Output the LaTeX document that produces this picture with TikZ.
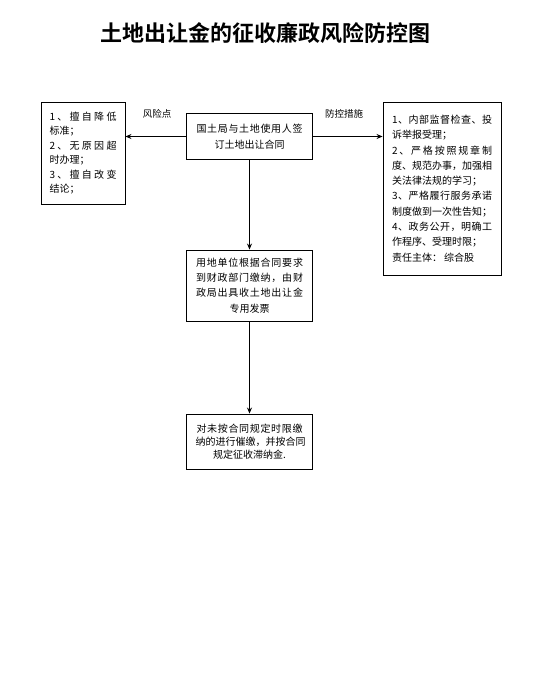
\documentclass[tikz,border=0pt]{standalone}
\usepackage{fontspec}
\setmainfont{Noto Sans CJK SC}
\newfontfamily\titlefont{Noto Sans CJK SC Bold}
\usetikzlibrary{arrows.meta}
\makeatletter
\newcommand\sprtok[1]{\def\spr@first{1}\@tfor\spr@t:=#1\do{\ifnum\spr@first=1 \def\spr@first{0}\else\hfill\fi\spr@t}}
\makeatother
\newcommand\jl[2]{\makebox[#1][s]{\sprtok{#2}}}
\begin{document}
\begin{tikzpicture}[x=1pt,y=-1pt,
  box/.style={draw,line width=0.9pt,rectangle,inner sep=0pt},
  lbl/.style={font=\fontsize{9.5}{11}\selectfont},
  arr/.style={line width=0.9pt,-{Stealth[length=6pt,width=5pt]}}]
\useasboundingbox (0,0) rectangle (538,690);
\node[font=\titlefont\fontsize{22}{24}\selectfont] (title) at (265,33) {土地出让金的征收廉政风险防控图};

\node[box,minimum width=84pt,minimum height=102pt,align=left,
  font=\fontsize{10}{14.4}\selectfont] (risk) at (83,153)
  {\jl{67pt}{1、擅自降低}\\标准；\\\jl{67pt}{2、无原因超}\\时办理；\\\jl{67pt}{3、擅自改变}\\结论；};

\node[box,minimum width=126pt,minimum height=46pt,align=center,
  font=\fontsize{10}{16.5}\selectfont] (sign) at (249.5,136.5)
  {\jl{106pt}{国土局与土地使用人签}\\订土地出让合同};

\node[box,minimum width=118pt,minimum height=173pt,align=left,
  font=\fontsize{10}{15.3}\selectfont] (ctrl) at (442,188.5)
  {\jl{100pt}{1、内部监督检查、投}\\诉举报受理；\\
   \jl{100pt}{2、严格按照规章制}\\\jl{100pt}{度、规范办事，加强相}\\关法律法规的学习；\\
   \jl{100pt}{3、严格履行服务承诺}\\制度做到一次性告知；\\
   \jl{100pt}{4、政务公开，明确工}\\作程序、受理时限；\\责任主体：\ 综合股};

\node[box,minimum width=126pt,minimum height=71pt,align=center,
  font=\fontsize{10}{15.3}\selectfont] (pay) at (249.5,285.5)
  {\jl{107pt}{用地单位根据合同要求}\\\jl{107pt}{到财政部门缴纳，由财}\\\jl{107pt}{政局出具收土地出让金}\\专用发票};

\node[box,minimum width=126pt,minimum height=55pt,align=center,
  font=\fontsize{10}{12.8}\selectfont] (urge) at (249.5,441.5)
  {\jl{106pt}{对未按合同规定时限缴}\\\jl{108pt}{纳的进行催缴，并按合同}\\规定征收滞纳金.};

\draw[arr] (sign.west) -- (risk.east |- sign.west);
\draw[arr] (sign.east) -- (ctrl.west |- sign.east);
\draw[arr] (sign.south) -- (pay.north);
\draw[arr] (pay.south) -- (urge.north);

\node[lbl] (lrisk) at (157,114) {风险点};
\node[lbl] (lctrl) at (344,114) {防控措施};
\end{tikzpicture}
\end{document}
